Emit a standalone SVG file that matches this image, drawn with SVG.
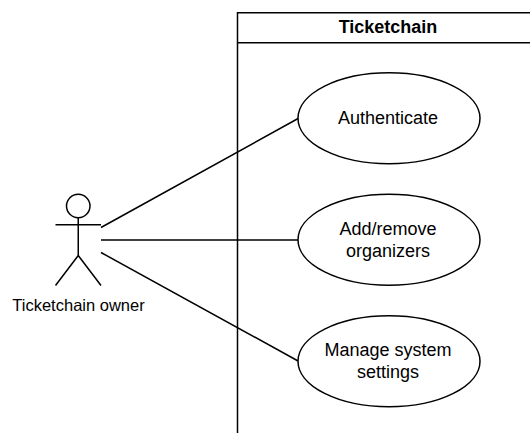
<svg xmlns="http://www.w3.org/2000/svg" width="530" height="433" viewBox="0 0 530 433">
<style>
text{font-family:"Liberation Sans",Arial,sans-serif;font-size:18px;fill:#000;text-anchor:middle}
.s{fill:none;stroke:#000;stroke-width:1.5}
.e{fill:#fff;stroke:#000;stroke-width:1.5}
</style>
<rect width="530" height="433" fill="#fff"/>
<g id="system"><path class="s" d="M237.500 433V12.750H538M237.500 42.750H538"/><text x="388" y="33" style="font-weight:bold">Ticketchain</text></g>
<g id="connectors">
<path class="s" d="M101 227.500L299 118M101 240H299M101 252.500L299 361.500"/>
</g>
<g id="actor"><circle class="s" cx="78.250" cy="206" r="11.750"/><path class="s" d="M78.250 217.750V255.500M55.500 224.750H101M78.250 255.500L55.500 285.500M78.250 255.500L101 285.500"/><text x="78.500" y="311" style="font-size:16.500px">Ticketchain owner</text></g>
<g id="auth"><ellipse class="e" cx="389" cy="118.250" rx="91" ry="45.500"/><text x="388" y="124">Authenticate</text></g>
<g id="add"><ellipse class="e" cx="389" cy="239.750" rx="91" ry="45.500"/><text x="388" y="235">Add/remove</text><text x="388" y="257">organizers</text></g>
<g id="manage"><ellipse class="e" cx="389" cy="361.250" rx="91" ry="45.500"/><text x="388" y="356">Manage system</text><text x="388" y="378">settings</text></g>
</svg>
